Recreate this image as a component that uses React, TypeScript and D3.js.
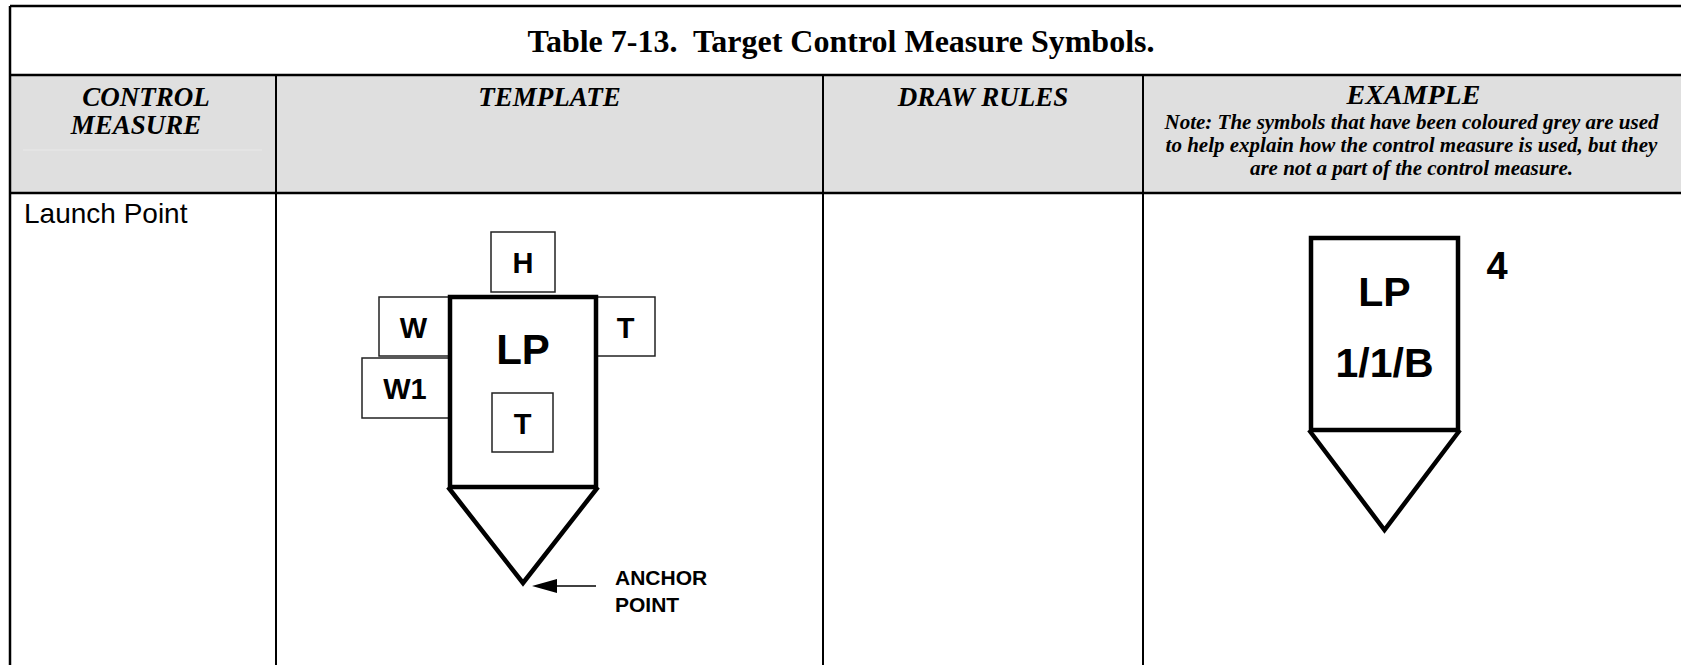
import React from 'react'
import * as d3 from 'd3'

const W = 1681
const H = 665

const title = 'Table 7-13.  Target Control Measure Symbols.'
const headers = ['TEMPLATE', 'DRAW RULES', 'EXAMPLE']
const firstHeader = ['CONTROL', 'MEASURE']
const noteLines = [
  'Note: The symbols that have been coloured grey are used',
  'to help explain how the control measure is used, but they',
  'are not a part of the control measure.',
]
const rowLabel = 'Launch Point'
const templateMain = 'LP'
const templateFields = [
  { key: 'H', box: [491, 232, 555, 292] },
  { key: 'W', box: [379, 297, 450, 356] },
  { key: 'T', box: [596, 297, 655, 356] },
  { key: 'W1', box: [362, 358, 450, 418] },
  { key: 'T', box: [492, 393, 553, 452] },
]
const anchorLabel = ['ANCHOR', 'POINT']
const exampleLines = ['LP', '1/1/B']
const exampleSide = '4'

// column edges and row edges of the table
const colEdges = [10, 276, 823, 1143, 1684]
const rowEdges = [6, 75, 193, 700]

const serif = '"Liberation Serif", "Times New Roman", serif'
const sans = '"Liberation Sans", Arial, sans-serif'

function Pin({ x0, y0, x1, y1, tip }: { x0: number; y0: number; x1: number; y1: number; tip: number }) {
  const line = d3.line()
  const cx = (x0 + x1) / 2
  return (
    <g fill="none" stroke="#000" strokeWidth={4.5}>
      <rect x={x0} y={y0} width={x1 - x0} height={y1 - y0} strokeLinejoin="miter" />
      <path d={line([[x0 - 2, y1], [cx, tip], [x1 + 2, y1]]) || ''} strokeLinejoin="miter" />
    </g>
  )
}

export default function App() {
  const [left, c1, c2, c3, right] = colEdges
  const [top, r1, r2, bottom] = rowEdges
  const colCenter = (i: number) => (colEdges[i] + colEdges[i + 1]) / 2

  const lp = { x0: 450, y0: 297, x1: 596, y1: 487, tip: 583 }
  const ex = { x0: 1311, y0: 238, x1: 1458, y1: 430, tip: 530 }
  const lpCx = (lp.x0 + lp.x1) / 2
  const exCx = (ex.x0 + ex.x1) / 2

  return (
    <svg width={W} height={H} style={{ position: 'absolute', left: 0, top: 0, background: '#fff' }}>
      <rect x={0} y={0} width={W} height={H} fill="#fff" />
      {/* header band */}
      <rect x={left} y={r1} width={right - left} height={r2 - r1} fill="#dfdfdf" />
      <line x1={23} x2={262} y1={150} y2={150} stroke="#e9e9e9" strokeWidth={1} />

      {/* grid */}
      <g stroke="#000">
        <line x1={left} x2={right} y1={top} y2={top} strokeWidth={2.5} />
        <line x1={left} x2={right} y1={r1} y2={r1} strokeWidth={2.5} />
        <line x1={left} x2={right} y1={r2} y2={r2} strokeWidth={2.5} />
        <line x1={left} x2={left} y1={top} y2={bottom} strokeWidth={2.5} />
        <line x1={right} x2={right} y1={top} y2={bottom} strokeWidth={2.5} />
        {[c1, c2, c3].map((x, i) => (
          <line key={i} x1={x} x2={x} y1={r1} y2={bottom} strokeWidth={2} />
        ))}
      </g>

      {/* title */}
      <text x={841} y={52} textAnchor="middle" fontFamily={serif} fontWeight="bold" fontSize={32}
        xmlSpace="preserve" style={{ whiteSpace: 'pre' }}>
        {title}
      </text>

      {/* header texts */}
      <g fontFamily={serif} fontWeight="bold" fontStyle="italic">
        <text x={146} y={106} textAnchor="middle" fontSize={27}>{firstHeader[0]}</text>
        <text x={136} y={134} textAnchor="middle" fontSize={27}>{firstHeader[1]}</text>
        {headers.map((h, i) => (
          <text key={h} x={colCenter(i + 1)} y={i === 2 ? 104 : 106} textAnchor="middle" fontSize={i === 2 ? 28 : 27}>{h}</text>
        ))}
        {noteLines.map((t, i) => (
          <text key={i} x={colCenter(3) - 2} y={129 + i * 23} textAnchor="middle" fontSize={21}>{t}</text>
        ))}
      </g>

      {/* row label */}
      <text x={24} y={223} fontFamily={sans} fontSize={28}>{rowLabel}</text>

      {/* template symbol */}
      <g fill="#fff" stroke="#222" strokeWidth={1.5}>
        {templateFields.map((f, i) => (
          <rect key={i} x={f.box[0]} y={f.box[1]} width={f.box[2] - f.box[0]} height={f.box[3] - f.box[1]} />
        ))}
      </g>
      <Pin {...lp} />
      <g fontFamily={sans} fontWeight="bold" textAnchor="middle" fontSize={29}>
        {templateFields.map((f, i) => (
          <text key={i} x={(f.box[0] + f.box[2]) / 2 + (f.key === 'W' || f.key === 'W1' ? -1 : 0)} y={f.box[1] + 41}>{f.key}</text>
        ))}
        <text x={lpCx} y={364} fontSize={42}>{templateMain}</text>
      </g>

      {/* anchor arrow */}
      <line x1={596} x2={550} y1={586} y2={586} stroke="#000" strokeWidth={1.5} />
      <path d={d3.line()([[532, 586], [557, 579], [557, 593]]) + 'Z'} fill="#000" />
      <g fontFamily={sans} fontWeight="bold" fontSize={21}>
        <text x={615} y={585}>{anchorLabel[0]}</text>
        <text x={615} y={612}>{anchorLabel[1]}</text>
      </g>

      {/* example symbol */}
      <Pin {...ex} />
      <g fontFamily={sans} fontWeight="bold" textAnchor="middle">
        <text x={exCx} y={306} fontSize={41}>{exampleLines[0]}</text>
        <text x={exCx} y={377} fontSize={41}>{exampleLines[1]}</text>
        <text x={1497} y={279} fontSize={38}>{exampleSide}</text>
      </g>
    </svg>
  )
}
